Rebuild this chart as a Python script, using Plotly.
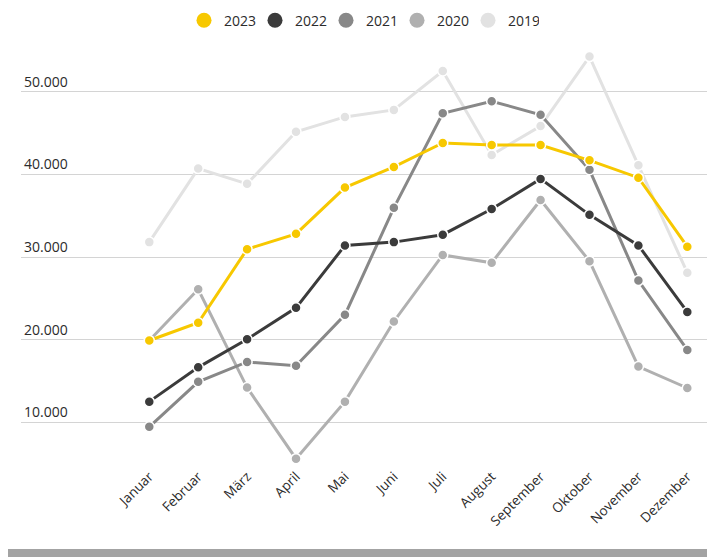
import plotly.graph_objects as go

months = ["Januar", "Februar", "März", "April", "Mai", "Juni", "Juli",
          "August", "September", "Oktober", "November", "Dezember"]

v2023 = [19900, 22050, 30950, 32800, 38400, 40900, 43800, 43550, 43550, 41700, 39600, 31250]
v2022 = [12500, 16650, 20050, 23850, 31400, 31800, 32700, 35800, 39450, 35100, 31400, 23350]
v2021 = [9450, 14900, 17300, 16850, 23000, 35950, 47400, 48850, 47200, 40550, 27150, 18750]
v2020 = [19900, 26100, 14200, 5600, 12500, 22200, 30250, 29300, 36900, 29500, 16750, 14150]
v2019 = [31800, 40700, 38850, 45150, 46950, 47800, 52500, 42350, 45850, 54250, 41100, 28100]

series_names = ["2023", "2022", "2021", "2020", "2019"]
series_values = [v2023, v2022, v2021, v2020, v2019]
colors = ["#F7C800", "#3B3B3B", "#888888", "#B0B0B0", "#E2E2E2"]

FONT = "Open Sans"
TEXT = "#2B2B2B"

fig = go.Figure()
idx = list(range(len(months)))

# draw oldest first so 2023 ends up on top
for name, vals, col in reversed(list(zip(series_names, series_values, colors))):
    fig.add_trace(go.Scatter(
        x=idx, y=vals, mode="lines+markers", name=name, showlegend=False,
        line=dict(color=col, width=3),
        marker=dict(color=col, size=10, line=dict(color="white", width=1.5)),
        cliponaxis=False,
    ))

# legend entries (circle markers only)
for name, col in zip(series_names, colors):
    fig.add_trace(go.Scatter(
        x=[None], y=[None], mode="markers", name=name,
        marker=dict(color=col, size=15),
    ))

# the page adds an 8px body margin, so the figure is sized to fit the window
W, H = 707, 549
L, R, T, B = 13, 7, 42, 92
pw, ph = W - L - R, H - T - B

def px_x(p):
    return (p - L) / pw

def px_y(p):
    return (H - B - p) / ph

shapes = [
    dict(type="rect", xref="paper", yref="paper", layer="below",
         x0=px_x(0), x1=px_x(700), y0=px_y(541), y1=px_y(0),
         fillcolor="white", line=dict(width=0)),
]

fig.update_layout(
    width=W, height=H, autosize=False,
    margin=dict(l=L, r=R, t=T, b=B, pad=0, autoexpand=False),
    paper_bgcolor="#A3A3A3",
    plot_bgcolor="white",
    separators=",.",
    font=dict(family=FONT, color=TEXT, size=13),
    shapes=shapes,
    showlegend=True,
    legend=dict(orientation="h", x=0.5 - 3 / pw, xanchor="center",
                yref="container", y=1 - 12.7 / H, yanchor="middle",
                font=dict(family=FONT, size=14, color=TEXT),
                entrywidth=26, entrywidthmode="pixels",
                bgcolor="rgba(0,0,0,0)", itemclick=False),
    xaxis=dict(
        tickmode="array", tickvals=idx, ticktext=months,
        range=[-2.623, 11.423], showgrid=False, zeroline=False,
        showline=False, tickangle=-45, ticks="", automargin=False,
        tickfont=dict(family=FONT, size=13.5, color=TEXT),
    ),
    yaxis=dict(
        range=[4834, 55045], tick0=0, dtick=10000, tickformat=",d",
        showgrid=True, gridcolor="#D4D4D4", gridwidth=1, zeroline=False,
        showline=False, ticks="", ticklabelposition="inside top",
        automargin=False,
        tickfont=dict(family=FONT, size=14, color=TEXT),
    ),
)

fig.write_html("out.html")
